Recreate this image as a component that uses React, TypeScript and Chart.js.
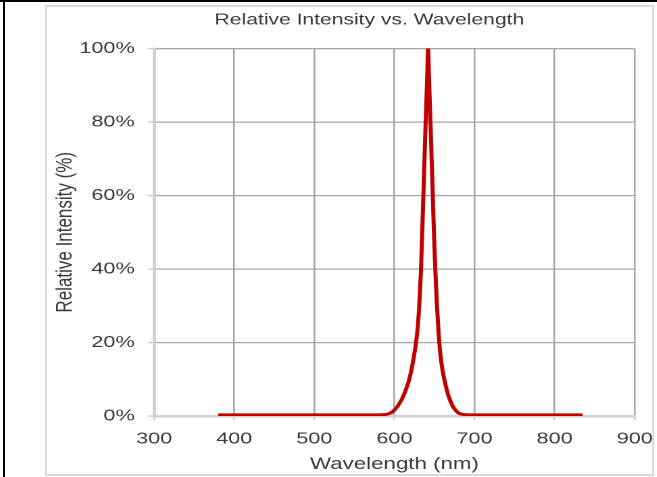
import React, { useEffect, useRef } from 'react';
import { Chart, registerables } from 'chart.js';

Chart.register(...registerables);

// ---- data ----
const wavelengths: number[] = [
  380, 400, 450, 500, 550, 580, 590, 595, 600, 605, 610, 614, 618, 621, 624, 627, 629, 631, 633,
  635, 637, 639, 641, 642, 643, 645, 647, 649, 651, 653, 655, 657, 660, 663, 667, 672, 677, 682,
  690, 700, 750, 800, 835,
];
const intensity: number[] = [
  0.3, 0.3, 0.3, 0.3, 0.3, 0.32, 0.45, 0.8, 1.6, 3, 4.9, 7, 9.6, 12.3, 15.8, 20, 24, 30, 39,
  52, 66, 80, 93, 100, 93, 80, 66, 52, 40, 30.5, 23, 17.5, 12.5, 9.3, 5.8, 3, 1.4, 0.6,
  0.35, 0.3, 0.3, 0.3, 0.3,
];
const xTickValues: number[] = [300, 400, 500, 600, 700, 800, 900];
const yTickValues: number[] = [0, 20, 40, 60, 80, 100];

const chartTitle = 'Relative Intensity vs. Wavelength';
const xTitle = 'Wavelength (nm)';
const yTitle = 'Relative Intensity (%)';

// ---- layout ----
const W = 657;
const H = 477;
const STRETCH = 1.35;
const CW = W / STRETCH;
const PLOT_LEFT = 154 / STRETCH;
const PLOT_RIGHT = 634 / STRETCH;
const PAD_LEFT = 55;
const PAD_RIGHT = -5;
const FONT = "'Liberation Sans', Arial, Helvetica, sans-serif";
const TEXT = '#3a3a3a';

const noPad = (s: any) => {
  s.paddingLeft = 0;
  s.paddingRight = 0;
  s.paddingTop = 0;
  s.paddingBottom = 0;
};

export default function App() {
  const canvasRef = useRef<HTMLCanvasElement | null>(null);

  useEffect(() => {
    if (!canvasRef.current) return;
    const chart = new Chart(canvasRef.current, {
      type: 'line',
      data: {
        datasets: [
          {
            data: wavelengths.map((x, i) => ({ x, y: intensity[i] })),
            borderColor: '#c00000',
            borderWidth: 3,
            pointRadius: 0,
            fill: false,
            cubicInterpolationMode: 'monotone',
          },
        ],
      },
      options: {
        animation: false,
        responsive: true,
        maintainAspectRatio: false,
        devicePixelRatio: 2,
        layout: { padding: { left: PAD_LEFT, right: PAD_RIGHT, top: 0, bottom: 0 } },
        plugins: {
          legend: { display: false },
          tooltip: { enabled: false },
          title: {
            display: true,
            text: chartTitle,
            color: TEXT,
            font: { family: FONT, size: 15.6, weight: 'normal' },
            padding: { top: 11, bottom: 18.8 },
          },
        },
        scales: {
          x: {
            type: 'linear',
            min: xTickValues[0],
            max: xTickValues[xTickValues.length - 1],
            afterBuildTicks: (s: any) => {
              s.ticks = xTickValues.map((v) => ({ value: v }));
            },
            afterFit: (s: any) => {
              s.height = H - 416;
              noPad(s);
            },
            ticks: {
              color: TEXT,
              font: { family: FONT, size: 16 },
              padding: 9.5,
              maxRotation: 0,
              autoSkip: false,
            },
            grid: { color: '#a6a6a6', lineWidth: 1.3, tickLength: 4, tickColor: '#c8c8c8' },
            border: { color: '#d0d0d0', width: 2.5 },
            title: {
              display: true,
              text: xTitle,
              color: TEXT,
              font: { family: FONT, size: 16.5 },
              padding: { top: 0, bottom: 2.5 },
            },
          },
          y: {
            type: 'linear',
            min: yTickValues[0],
            max: yTickValues[yTickValues.length - 1],
            afterBuildTicks: (s: any) => {
              s.ticks = yTickValues.map((v) => ({ value: v }));
            },
            afterFit: (s: any) => {
              s.width = PLOT_LEFT - PAD_LEFT;
              noPad(s);
            },
            ticks: {
              color: TEXT,
              font: { family: FONT, size: 16 },
              padding: 10,
              callback: (v: any) => v + '%',
            },
            grid: { color: '#a6a6a6', lineWidth: 1.3, tickLength: 4.4, tickColor: '#c8c8c8' },
            border: { color: '#d0d0d0', width: 2.5 },
            title: {
              display: true,
              text: yTitle,
              color: TEXT,
              font: { family: FONT, size: 17 },
              padding: { top: 65 / STRETCH - PAD_LEFT - 10.2, bottom: 0 },
            },
          },
          yRight: {
            type: 'linear',
            position: 'right',
            display: true,
            grid: { display: false, drawTicks: false },
            ticks: { display: false },
            border: { display: false },
            title: { display: false },
            afterFit: (s: any) => {
              s.width = CW - PAD_RIGHT - PLOT_RIGHT;
              noPad(s);
            },
          },
        },
      },
    } as any);
    return () => chart.destroy();
  }, []);

  return (
    <div
      style={{
        position: 'fixed',
        left: 0,
        top: 0,
        width: W,
        height: H,
        background: '#ffffff',
        overflow: 'hidden',
      }}
    >
      <div style={{ position: 'absolute', left: 0, top: 0, width: W, height: 2, background: '#000' }} />
      <div style={{ position: 'absolute', left: 3, top: 0, width: 2, height: H, background: '#000' }} />
      <div
        style={{
          position: 'absolute',
          left: 45,
          top: 5,
          width: 609,
          height: 471,
          border: '2px solid #dadada',
          boxSizing: 'border-box',
        }}
      />
      <div
        style={{
          position: 'absolute',
          left: 0,
          top: 0,
          width: CW,
          height: H,
          transform: `scaleX(${STRETCH})`,
          transformOrigin: '0 0',
        }}
      >
        <canvas ref={canvasRef} />
      </div>
    </div>
  );
}
